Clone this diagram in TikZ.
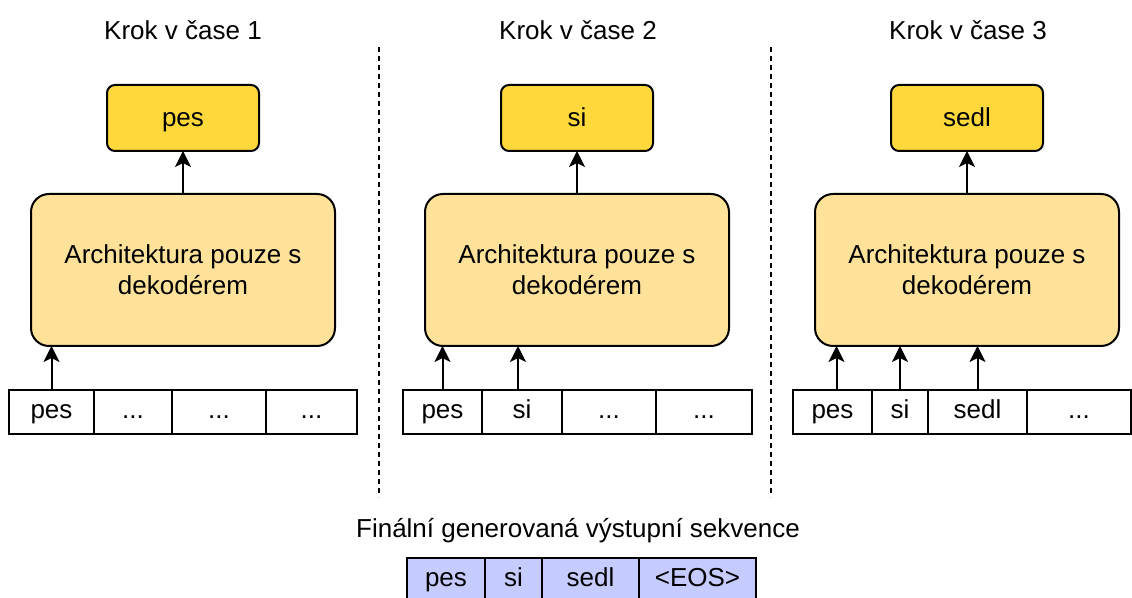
\documentclass[tikz,border=0pt]{standalone}
\usepackage{fontspec}
\setmainfont{Liberation Sans}
\usetikzlibrary{arrows.meta, positioning}

\definecolor{outyellow}{HTML}{FFD93B}
\definecolor{decyellow}{HTML}{FFE29A}
\definecolor{seqblue}{HTML}{C6CCFF}

\begin{document}
\begin{tikzpicture}[
    x=0.5pt, y=-0.5pt,
    every node/.style={font=\fontsize{13}{15.6}\selectfont, inner sep=0pt, outer sep=0pt},
    outbox/.style={draw, line width=1pt, rounded corners=4pt, fill=outyellow, minimum width=76pt, minimum height=33pt, text height=11pt, text depth=2pt},
    decbox/.style={draw, line width=1pt, rounded corners=9pt, fill=decyellow, minimum width=152pt, minimum height=76pt, align=center},
    cell/.style={draw, line width=1pt, fill=white, minimum height=22pt, minimum width=#1, text height=10.5pt, text depth=3.5pt},
    seqcell/.style={cell=#1, fill=seqblue},
    arrow/.style={-{Stealth[length=8pt, width=8pt, inset=2pt]}, line width=1pt},
    divider/.style={line width=1pt, dash pattern=on 2.5pt off 2pt}
]
\useasboundingbox (0,0) rectangle (1132,598);

% Step 1
\node (title1) at (183,30) {Krok v čase 1};
\node[outbox] (out1) at (183,118) {pes};
\node[decbox] (dec1) at (183,270) {Architektura pouze s\\dekodérem};
\node[cell=42.5pt, anchor=west] (in1a) at (9,412) {pes};
\node[cell=39pt, right=0pt of in1a] (in1b) {...};
\node[cell=47pt, right=0pt of in1b] (in1c) {...};
\node[cell=45.5pt, right=0pt of in1c] (in1d) {...};

% Step 2
\node (title2) at (578,30) {Krok v čase 2};
\node[outbox] (out2) at (577,118) {si};
\node[decbox] (dec2) at (577,270) {Architektura pouze s\\dekodérem};
\node[cell=39.5pt, anchor=west] (in2a) at (403,412) {pes};
\node[cell=40pt, right=0pt of in2a] (in2b) {si};
\node[cell=47pt, right=0pt of in2b] (in2c) {...};
\node[cell=48pt, right=0pt of in2c] (in2d) {...};

% Step 3
\node (title3) at (968,30) {Krok v čase 3};
\node[outbox] (out3) at (967,118) {sedl};
\node[decbox] (dec3) at (967,270) {Architektura pouze s\\dekodérem};
\node[cell=39.5pt, anchor=west] (in3a) at (793,412) {pes};
\node[cell=28pt, right=0pt of in3a] (in3b) {si};
\node[cell=49.5pt, right=0pt of in3b] (in3c) {sedl};
\node[cell=52pt, right=0pt of in3c] (in3d) {...};

% Final sequence
\node (finaltitle) at (578,531) {Finální generovaná výstupní sekvence};
\node[seqcell=39pt, anchor=west] (fin1) at (407,580) {pes};
\node[seqcell=28.5pt, right=0pt of fin1] (fin2) {si};
\node[seqcell=48.5pt, right=0pt of fin2] (fin3) {sedl};
\node[seqcell=58.5pt, right=0pt of fin3] (fin4) {<EOS>};

% Separators
\coordinate (sep1top) at (379,47);
\coordinate (sep1bot) at (379,497);
\coordinate (sep2top) at (771,47);
\coordinate (sep2bot) at (771,497);
\draw[divider] (sep1top) -- (sep1bot);
\draw[divider] (sep2top) -- (sep2bot);

% Outputs
\draw[arrow] (dec1.north) -- (out1.south);
\draw[arrow] (dec2.north) -- (out2.south);
\draw[arrow] (dec3.north) -- (out3.south);

% Inputs
\draw[arrow] (in1a.north) -- (in1a.north |- dec1.south);
\draw[arrow] (in2a.north) -- (in2a.north |- dec2.south);
\draw[arrow] ([xshift=-2pt]in2b.north) -- ([xshift=-2pt]in2b.north |- dec2.south);
\draw[arrow] ([xshift=2pt]in3a.north) -- ([xshift=2pt]in3a.north |- dec3.south);
\draw[arrow] (in3b.north) -- (in3b.north |- dec3.south);
\draw[arrow] (in3c.north) -- (in3c.north |- dec3.south);

\end{tikzpicture}
\end{document}
